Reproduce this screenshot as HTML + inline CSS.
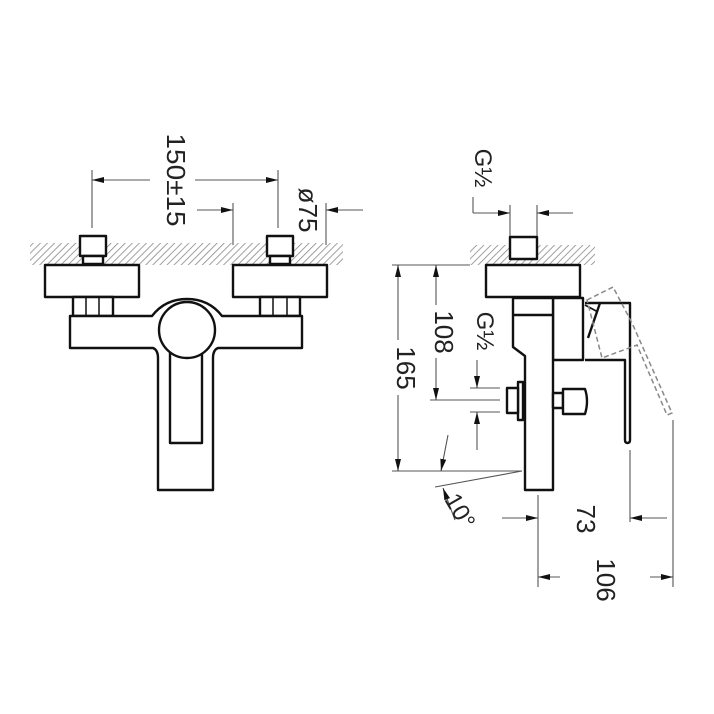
<!DOCTYPE html>
<html><head><meta charset="utf-8"><style>html,body{margin:0;padding:0;background:#fff}svg{display:block}</style></head><body>
<svg width="714" height="714" viewBox="0 0 714 714" xmlns="http://www.w3.org/2000/svg">
<defs>
<pattern id="h" width="5" height="5" patternUnits="userSpaceOnUse" patternTransform="rotate(45)">
<line x1="0" y1="0" x2="0" y2="5" stroke="#888" stroke-width="1.6"/>
</pattern>
<marker id="a" markerWidth="12" markerHeight="8" refX="12" refY="4" orient="auto" markerUnits="userSpaceOnUse">
<path d="M0,1 L12,4 L0,7 Z" fill="#111"/>
</marker>
</defs>
<rect x="30" y="243" width="313" height="22" fill="url(#h)"/>
<rect x="470" y="245" width="125" height="20" fill="url(#h)"/>

<g fill="#fff" stroke="#111" stroke-width="2.4" stroke-linejoin="round">
<!-- LEFT VIEW -->
<rect x="80" y="236" width="26" height="20"/>
<rect x="83" y="256" width="20" height="8"/>
<rect x="267" y="236" width="26" height="20"/>
<rect x="270" y="256" width="20" height="8"/>
<rect x="45" y="265" width="94" height="32"/>
<rect x="233" y="265" width="94" height="32"/>
<rect x="73" y="297" width="40" height="19"/>
<line x1="86" y1="297" x2="86" y2="316" stroke-width="1.5"/>
<line x1="99" y1="297" x2="99" y2="316" stroke-width="1.5"/>
<rect x="260" y="297" width="40" height="19"/>
<line x1="273" y1="297" x2="273" y2="316" stroke-width="1.5"/>
<line x1="287" y1="297" x2="287" y2="316" stroke-width="1.5"/>
<path d="M70,316 H152 Q165,299 187,299 Q209,299 222,316 H302 V348 H218 Q213,350 213,358 V490 H158 V358 Q158,350 153,348 H70 Z"/>
<circle cx="187" cy="330" r="28"/>
<path d="M170,353 V443 H202 V353" fill="none"/>

<!-- RIGHT VIEW -->
<rect x="510" y="237" width="27" height="22"/>
<rect x="486" y="265" width="94" height="32"/>
<path d="M553,298 H583 V360 H553 Z"/>
<path d="M513,298 H553 V490 H525 V356 L513,347 Z"/>
<line x1="513" y1="315" x2="553" y2="315"/>
<path d="M585,303 H630 V440 Q630,443 627.5,443 Q625,443 625,440 V360 H585"/>
<path d="M600,303 L588,338" fill="none"/>
<path d="M585,305 L598,312" fill="none" stroke-width="1.6"/>
<rect x="518" y="382" width="5" height="38"/>
<rect x="507" y="388" width="11" height="25"/>
<rect x="553" y="393" width="10" height="15"/>
<path d="M563,389 H585 Q589,401 585,414 H563 Z"/>
</g>
<path d="M587,300 L613,287 L632,323 L672,413 L667,415 L637,345 L602,358 Z" fill="none" stroke="#888" stroke-width="1.5" stroke-dasharray="5,3"/>

<g stroke="#555" stroke-width="1.1" fill="none">
<line x1="92" y1="170" x2="92" y2="228"/>
<line x1="278" y1="170" x2="278" y2="228"/>
<line x1="150" y1="180" x2="92" y2="180" marker-end="url(#a)"/>
<line x1="195" y1="180" x2="278" y2="180" marker-end="url(#a)"/>
<line x1="233" y1="203" x2="233" y2="245"/>
<line x1="326" y1="203" x2="326" y2="245"/>
<line x1="197" y1="210" x2="233" y2="210" marker-end="url(#a)"/>
<line x1="363" y1="210" x2="326" y2="210" marker-end="url(#a)"/>

<line x1="473" y1="197" x2="473" y2="213"/>
<line x1="473" y1="213" x2="510" y2="213" marker-end="url(#a)"/>
<line x1="510" y1="205" x2="510" y2="236"/>
<line x1="537" y1="205" x2="537" y2="236"/>
<line x1="573" y1="213" x2="537" y2="213" marker-end="url(#a)"/>

<line x1="392" y1="265" x2="470" y2="265"/>
<line x1="392" y1="471" x2="522" y2="471"/>
<line x1="398" y1="340" x2="398" y2="265" marker-end="url(#a)"/>
<line x1="398" y1="395" x2="398" y2="471" marker-end="url(#a)"/>
<line x1="436" y1="305" x2="436" y2="265" marker-end="url(#a)"/>
<line x1="436" y1="358" x2="436" y2="400" marker-end="url(#a)"/>
<line x1="430" y1="400" x2="500" y2="400"/>
<line x1="470" y1="388" x2="500" y2="388"/>
<line x1="470" y1="412" x2="500" y2="412"/>
<line x1="477" y1="360" x2="477" y2="388" marker-end="url(#a)"/>
<line x1="477" y1="450" x2="477" y2="412" marker-end="url(#a)"/>
<line x1="435" y1="487" x2="522" y2="471"/>
<line x1="448" y1="435" x2="441" y2="471" marker-end="url(#a)"/>
<line x1="455" y1="520" x2="443" y2="488" marker-end="url(#a)"/>

<line x1="538" y1="495" x2="538" y2="587"/>
<line x1="630" y1="450" x2="630" y2="522"/>
<line x1="673" y1="420" x2="673" y2="587"/>
<line x1="502" y1="518" x2="538" y2="518" marker-end="url(#a)"/>
<line x1="667" y1="518" x2="630" y2="518" marker-end="url(#a)"/>
<line x1="560" y1="577" x2="538" y2="577" marker-end="url(#a)"/>
<line x1="650" y1="577" x2="673" y2="577" marker-end="url(#a)"/>
</g>

<g font-family="Liberation Sans, sans-serif" font-size="26" fill="#222" text-anchor="middle">
<text transform="translate(167,180) rotate(90)" textLength="93" lengthAdjust="spacingAndGlyphs">150±15</text>
<text transform="translate(299,210) rotate(90)" textLength="45" lengthAdjust="spacingAndGlyphs">ø75</text>
<text transform="translate(475,168) rotate(90)" font-size="24">G½</text>
<text transform="translate(477,331) rotate(90)" font-size="24">G½</text>
<text transform="translate(435,332) rotate(90)">108</text>
<text transform="translate(397,368) rotate(90)">165</text>
<text transform="translate(577,519) rotate(90)">73</text>
<text transform="translate(597,580) rotate(90)">106</text>
<text transform="translate(453,515) rotate(60)" font-size="24">10°</text>
</g>
</svg>
</body></html>
